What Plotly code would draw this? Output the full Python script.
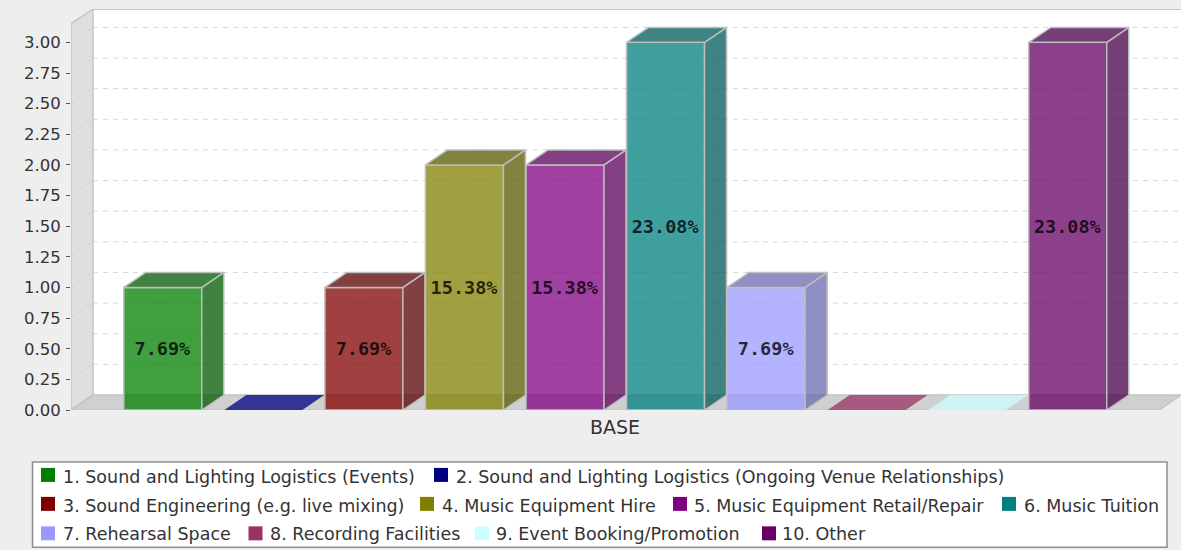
import plotly.graph_objects as go

series_names = [
    "1. Sound and Lighting Logistics (Events)",
    "2. Sound and Lighting Logistics (Ongoing Venue Relationships)",
    "3. Sound Engineering (e.g. live mixing)",
    "4. Music Equipment Hire",
    "5. Music Equipment Retail/Repair",
    "6. Music Tuition",
    "7. Rehearsal Space",
    "8. Recording Facilities",
    "9. Event Booking/Promotion",
    "10. Other",
]
values = [1, 0, 1, 2, 2, 3, 1, 0, 0, 3]
percent_labels = ["7.69%", "", "7.69%", "15.38%", "15.38%", "23.08%", "7.69%", "", "", "23.08%"]
base_rgb = [
    (0, 128, 0), (0, 0, 128), (128, 0, 0), (128, 128, 0), (128, 0, 128),
    (0, 128, 128), (153, 153, 255), (153, 51, 102), (204, 255, 255), (102, 0, 102),
]
y_ticks = [0, 0.25, 0.5, 0.75, 1, 1.25, 1.5, 1.75, 2, 2.25, 2.5, 2.75, 3]
y_labels = [f"{t:.2f}" for t in y_ticks]
category_label = ["BASE"]

W, H = 1181, 550
LEFT, RIGHT, TOP, BOTTOM = 71, 1181, 8.5, 410
X0_PX, X_STEP = 162.8, 100.55
Y_STEP = 122.7
DX, DY = 22 / X_STEP, 15 / Y_STEP
BAR_W = 78 / X_STEP
ALPHA = 0.75
x_min = (LEFT - X0_PX) / X_STEP
x_max = (RIGHT - X0_PX) / X_STEP
y_max = (BOTTOM - TOP) / Y_STEP
x_front_right = x_max - DX
OUTLINE = "#BEBEBE"


def rgba(c, k=1.0, a=ALPHA):
    return f"rgba({int(c[0]*k)},{int(c[1]*k)},{int(c[2]*k)},{a})"


def poly(xs, ys, fill, line=None, width=1.5):
    return go.Scatter(
        x=xs + xs[:1], y=ys + ys[:1], mode="lines", fill="toself", fillcolor=fill,
        line=dict(color=line or "rgba(0,0,0,0)", width=width if line else 0),
        hoverinfo="skip", showlegend=False, cliponaxis=False,
    )


def shape_poly(xs, ys, fill, line=None, width=1.5):
    path = "M" + " L".join(f"{x},{y}" for x, y in zip(xs, ys)) + " Z"
    return dict(type="path", xref="x", yref="y", layer="below", path=path, fillcolor=fill,
                line=dict(color=line or "rgba(0,0,0,0)", width=width if line else 0))


shapes = [
    shape_poly([x_min + DX, x_max, x_max, x_min + DX], [DY, DY, y_max, y_max], "#FFFFFF"),
    shape_poly([x_min, x_min + DX, x_min + DX, x_min], [0, DY, y_max, y_max - DY], "#DFDFDF", "#C4C4C4"),
    dict(type="line", xref="x", yref="y", layer="below", x0=x_min + DX, x1=x_max, y0=y_max, y1=y_max,
         line=dict(color="#C4C4C4", width=2)),
]
# Gridlines run along the side wall then across the back wall
for t in y_ticks[1:]:
    shapes.append(dict(type="line", xref="x", yref="y", layer="below", x0=x_min, x1=x_min + DX,
                       y0=t, y1=t + DY, line=dict(color="#D2D2D2", width=1, dash="5px,5px")))
    shapes.append(dict(type="line", xref="x", yref="y", layer="below", x0=x_min + DX, x1=x_max,
                       y0=t + DY, y1=t + DY, line=dict(color="#D6D6D6", width=1, dash="5px,5px")))
shapes.append(shape_poly([x_min, x_front_right, x_max, x_min + DX], [0, 0, DY, DY], "#D0D0D0", "#C4C4C4"))

fig = go.Figure()

# Bars
for i, (name, v, lab, c) in enumerate(zip(series_names, values, percent_labels, base_rgb)):
    xl, xr = i - BAR_W / 2, i + BAR_W / 2
    if v > 0:
        fig.add_trace(go.Bar(
            x=[i], y=[v], width=BAR_W, name=name, text=[lab], textposition="inside",
            insidetextanchor="middle", textangle=0, constraintext="none",
            insidetextfont=dict(family="DejaVu Sans Mono", size=18.5, color="rgba(0,0,0,0.78)", weight="bold"),
            marker=dict(color=rgba(c), line=dict(color=OUTLINE, width=1.5)),
            showlegend=False,
        ))
        fig.add_trace(poly([xr, xr + DX, xr + DX, xr], [0, DY, v + DY, v], rgba(c, 0.7), OUTLINE))
        fig.add_trace(poly([xl, xl + DX, xr + DX, xr], [v, v + DY, v + DY, v], rgba(c, 0.7), OUTLINE))
    else:
        fig.add_trace(poly([xl, xl + DX, xr + DX, xr], [v, v + DY, v + DY, v], rgba(c)))


def px_x(p):
    return (p - LEFT) / (RIGHT - LEFT)


def px_y(p):
    return (BOTTOM - p) / (BOTTOM - TOP)


# Legend, laid out in the reference's three flowing rows: swatch x, text x, swatch y, text y
legend_px = [(41, 62.5, 475, 477), (434, 455.5, 475, 477), (41, 62.5, 504, 506.5), (420, 441.5, 504, 506.5),
             (673, 693.5, 504, 506.5), (1002, 1023.5, 504, 506.5), (41, 62.5, 533.5, 534.5),
             (248.5, 269.5, 533.5, 534.5), (475, 496, 533.5, 534.5), (762, 782, 533.5, 534.5)]
SW = 14
shapes.append(dict(type="rect", xref="paper", yref="paper", layer="above",
                   x0=px_x(32.5), x1=px_x(1167), y0=px_y(547.5), y1=px_y(462),
                   fillcolor="#FFFFFF", line=dict(color="#8E8E8E", width=1.5)))
annotations = []
for (sx, tx, sy, ty), name, c in zip(legend_px, series_names, base_rgb):
    shapes.append(dict(type="rect", xref="paper", yref="paper", layer="above",
                       x0=px_x(sx), x1=px_x(sx + SW), y0=px_y(sy + SW / 2), y1=px_y(sy - SW / 2),
                       fillcolor=f"rgb{c}", line=dict(width=0)))
    annotations.append(dict(text=name, xref="paper", yref="paper", x=px_x(tx - 2), y=px_y(ty),
                            xanchor="left", yanchor="middle", showarrow=False,
                            font=dict(family="DejaVu Sans", size=17.5, color="#333333")))

fig.update_layout(
    width=W, height=H, autosize=False,
    margin=dict(l=LEFT, r=W - RIGHT, t=TOP, b=H - BOTTOM, pad=0),
    paper_bgcolor="#EEEEEE", plot_bgcolor="#EEEEEE",
    barmode="overlay", showlegend=False, shapes=shapes, annotations=annotations,
    xaxis=dict(range=[x_min, x_max], tickmode="array", tickvals=[(x_min + x_front_right) / 2],
               ticktext=category_label, showgrid=False, zeroline=False, showline=False,
               ticks="", ticklen=0, ticklabelstandoff=4,
               tickfont=dict(family="DejaVu Sans", size=19, color="#333333")),
    yaxis=dict(range=[0, y_max], tickmode="array", tickvals=y_ticks, ticktext=y_labels,
               showgrid=False, zeroline=False, showline=False, ticks="outside", ticklen=4,
               ticklabelstandoff=2,
               tickcolor="#555555", tickfont=dict(family="DejaVu Sans", size=16.5, color="#333333")),
)
fig.write_html("out.html", config=dict(displayModeBar=False),
               post_script="document.body.style.margin='0';document.body.style.overflow='hidden';"
                           "document.documentElement.style.background='#EEEEEE';")
